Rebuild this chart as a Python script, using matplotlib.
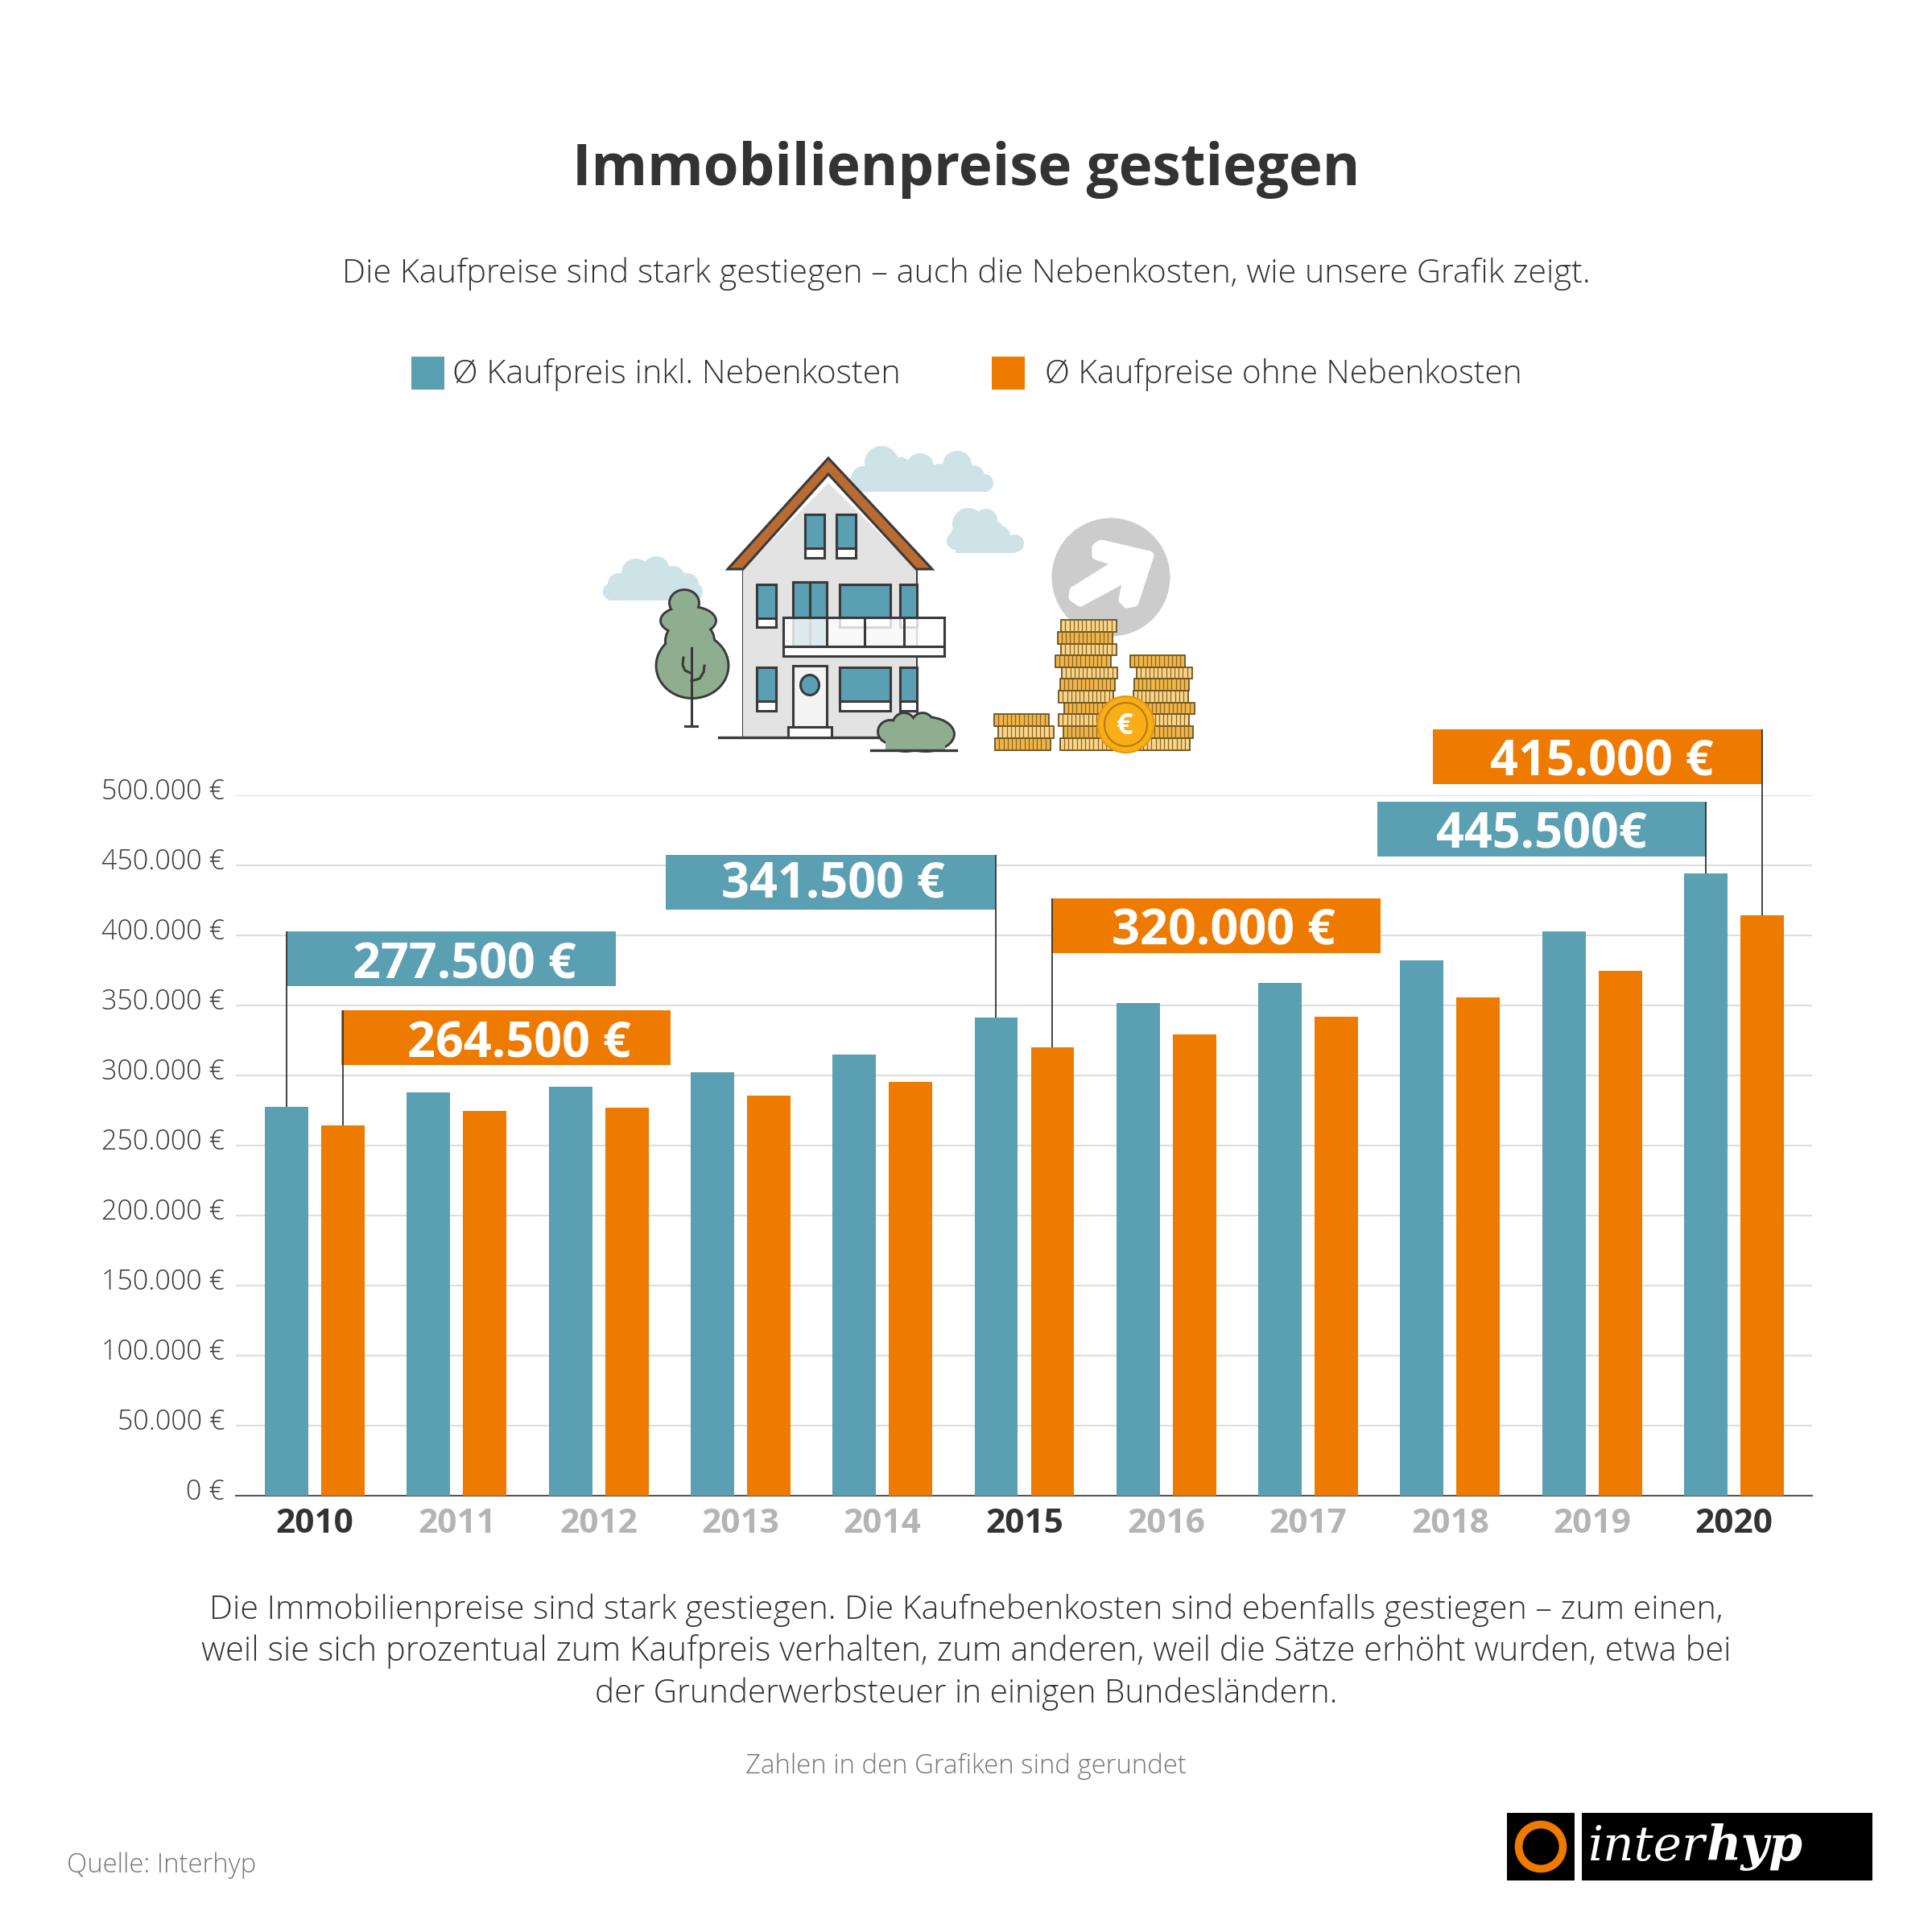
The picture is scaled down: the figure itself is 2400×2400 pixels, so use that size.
import matplotlib
matplotlib.use("Agg")
import matplotlib.pyplot as plt
from matplotlib.patches import Rectangle, Ellipse, Polygon, Circle
from matplotlib.transforms import ScaledTranslation

# data
years = [2010, 2011, 2012, 2013, 2014, 2015, 2016, 2017, 2018, 2019, 2020]
with_costs = [277500, 287900, 292000, 302100, 314900, 341500, 351700, 366100, 382200, 403000, 444300]
without_costs = [264500, 274700, 277000, 285600, 295400, 320100, 329300, 342100, 355900, 374900, 414400]
bold_years = [2010, 2015, 2020]
y_ticks = [0, 50000, 100000, 150000, 200000, 250000, 300000, 350000, 400000, 450000, 500000]
y_labels = ["0 €", "50.000 €", "100.000 €", "150.000 €", "200.000 €", "250.000 €",
            "300.000 €", "350.000 €", "400.000 €", "450.000 €", "500.000 €"]
legend_labels = ["Ø Kaufpreis inkl. Nebenkosten", "Ø Kaufpreise ohne Nebenkosten"]
title = "Immobilienpreise gestiegen"
subtitle = "Die Kaufpreise sind stark gestiegen – auch die Nebenkosten, wie unsere Grafik zeigt."
body_lines = ["Die Immobilienpreise sind stark gestiegen. Die Kaufnebenkosten sind ebenfalls gestiegen – zum einen,",
              "weil sie sich prozentual zum Kaufpreis verhalten, zum anderen, weil die Sätze erhöht wurden, etwa bei",
              "der Grunderwerbsteuer in einigen Bundesländern."]

BLUE = "#5A9FB2"
ORANGE = "#EE7A00"
DARK = "#333333"
FONT = "Open Sans"
W = 24

fig = plt.figure(figsize=(W, W), dpi=100)

# main chart, px positions
ax = fig.add_axes([293 / 2400, 1 - 1858 / 2400, (2251 - 293) / 2400, 870 / 2400])
ax.set_xlim(2010 - 98 / 176.3, 2010 + 1860 / 176.3)
ax.set_ylim(0, 500000)
off, bw = 35 / 176.3, 54 / 176.3
ax.bar([y - off for y in years], with_costs, bw, color=BLUE, zorder=3)
ax.bar([y + off for y in years], without_costs, bw, color=ORANGE, zorder=3)
ax.grid(axis="y", color="#DEDEDE", lw=1.5, zorder=0)
ax.set_axisbelow(True)
for s in ["top", "left", "right"]:
    ax.spines[s].set_visible(False)
ax.spines["bottom"].set_color("#555555")
ax.spines["bottom"].set_linewidth(1.5)
ax.set_yticks(y_ticks)
ax.set_yticklabels(y_labels, family=FONT, weight="light", fontsize=24.5, color="#3A3A3A")
ax.set_xticks(years)
ax.set_xticklabels([str(y) for y in years], family=FONT, weight="bold", fontsize=30.5)
ax.tick_params(length=0, axis="y", pad=10)
ax.tick_params(length=0, axis="x", pad=0)
for lab in ax.get_yticklabels():
    lab.set_verticalalignment("baseline")
    lab.set_transform(lab.get_transform() + ScaledTranslation(0, -5 / 100, fig.dpi_scale_trans))
for lab, y in zip(ax.get_xticklabels(), years):
    lab.set_verticalalignment("baseline")
    lab.set_color(DARK if y in bold_years else "#B4B4B4")
    lab.set_transform(lab.get_transform() + ScaledTranslation(0, -46 / 100, fig.dpi_scale_trans))

# overlay in pixel coordinates for text, callouts and the drawing
ov = fig.add_axes([0, 0, 1, 1], zorder=5)
ov.set_xlim(0, 2400)
ov.set_ylim(2400, 0)
ov.axis("off")
ov.patch.set_alpha(0)


def txt(x, y, s, size, color=DARK, weight="light", ha="center", **kw):
    kw.setdefault("family", FONT)
    return ov.text(x, y, s, fontsize=size, color=color, weight=weight, ha=ha, va="baseline", **kw)


def to_px(x, v):
    return ov.transData.inverted().transform(ax.transData.transform((x, v)))


txt(1200, 230, title, 51, weight="bold")
txt(1200, 351, subtitle, 29.8)
ov.add_patch(Rectangle((511, 443), 41, 41, color=BLUE, lw=0))
txt(562, 476, legend_labels[0], 29.7, ha="left")
ov.add_patch(Rectangle((1232, 443), 41, 41, color=ORANGE, lw=0))
txt(1298, 476, legend_labels[1], 29.2, ha="left")
for by, line, size in zip([2011, 2063, 2115], body_lines, [29.65, 30.0, 29.2]):
    txt(1200, by, line, size)
txt(1200, 2203, "Zahlen in den Grafiken sind gerundet", 23.7, color="#777777")
txt(83, 2326, "Quelle: Interhyp", 23.7, color="#777777", ha="left")

# callouts: label, year, series, box left, box top, text centre, baseline
callouts = [("277.500 €", 2010, 0, 356, 1157, 577, 1216),
            ("264.500 €", 2010, 1, 424, 1255, 645, 1314),
            ("341.500 €", 2015, 0, 827, 1062, 1035, 1116),
            ("320.000 €", 2015, 1, 1306, 1116, 1520, 1173),
            ("445.500€", 2020, 0, 1711, 996, 1915, 1053),
            ("415.000 €", 2020, 1, 1780, 906, 1990, 963)]
for label, yr, series, bx, by, tx, base in callouts:
    i = years.index(yr)
    vals = with_costs if series == 0 else without_costs
    col = BLUE if series == 0 else ORANGE
    xp, yp = to_px(yr + (off if series else -off), vals[i])
    ov.plot([xp, xp], [by, yp], color="#333333", lw=1.3, zorder=4, solid_capstyle="butt")
    ov.add_patch(Rectangle((bx, by), 409, 68, color=col, lw=0, zorder=3))
    txt(tx, base, label, 44, color="white", weight="bold", zorder=5)

# ---- illustration ----
LINE = "#3A3A3A"
CLOUD = "#CDE3E8"
GREEN = "#8FAE90"


def cloud(bumps, rect):
    for cx, cy, r in bumps:
        ov.add_patch(Circle((cx, cy), r, color=CLOUD, lw=0, zorder=1))
    ov.add_patch(Rectangle((rect[0], rect[1]), rect[2] - rect[0], rect[3] - rect[1], color=CLOUD, lw=0, zorder=1))


cloud([(1095, 575, 21), (1118, 584, 16), (1143, 580, 17), (1167, 588, 12), (1189, 578, 18), (1209, 592, 14),
       (1223, 600, 11), (1073, 595, 16), (1066, 600, 11), (1108, 592, 19), (1148, 592, 19), (1192, 592, 19)],
      (1064, 590, 1227, 611))
cloud([(1203, 651, 20), (1225, 646, 14), (1242, 666, 13), (1261, 675, 11), (1187, 672, 11), (1195, 665, 14),
       (1210, 664, 23), (1232, 662, 16)], (1187, 665, 1261, 687))
cloud([(790, 712, 18), (815, 708, 17), (836, 718, 15), (854, 726, 14), (862, 735, 11), (760, 735, 11),
       (768, 725, 13), (800, 725, 20), (835, 728, 17)], (758, 725, 864, 746))

# arrow circle
ov.add_patch(Ellipse((1380, 717), 147, 147, color="#CCCCCC", lw=0, zorder=1))
arrow = [(1362, 680), (1368, 676), (1428, 690), (1409, 748), (1400, 750), (1395, 745), (1401, 716),
         (1342, 748), (1333, 742), (1334, 734), (1390, 699), (1362, 690)]
ov.add_patch(Polygon(arrow, closed=True, fc="white", ec="white", lw=8, joinstyle="round", zorder=1.5))


def blob(shapes, z):
    # outline first, then fill on top so the lumps merge into one shape
    for cx, cy, w, h in shapes:
        ov.add_patch(Ellipse((cx, cy), w, h, fc=GREEN, ec=LINE, lw=4.2, zorder=z))
    for cx, cy, w, h in shapes:
        ov.add_patch(Ellipse((cx, cy), w, h, fc=GREEN, ec="none", zorder=z + 0.1))


# tree
blob([(860, 827, 87, 78), (857, 796, 58, 50), (855, 771, 66, 33), (850, 749, 34, 30)], 2)
ov.plot([859, 859], [805, 902], color=LINE, lw=2.2, zorder=2.5)
ov.plot([851, 866], [902, 902], color=LINE, lw=2.2, zorder=2.5)
ov.plot([849, 848, 851, 858], [817, 826, 833, 836], color=LINE, lw=2.2, zorder=2.5)
ov.plot([875, 874, 869, 859], [827, 835, 843, 846], color=LINE, lw=2.2, zorder=2.5)

# house
ov.add_patch(Rectangle((923, 707), 215, 209, fc="#E3E3E4", ec=LINE, lw=2.2, zorder=3))
ov.add_patch(Polygon([(1029, 600), (923, 707), (923, 916), (1138, 916), (1138, 707)], fc="#E3E3E4", ec="none", zorder=3))
ov.add_patch(Polygon([(1029, 569), (904, 707), (923, 707), (1029, 589), (1138, 707), (1158, 707)],
                     fc="#B96B32", ec=LINE, lw=2.2, joinstyle="miter", zorder=3.2))
ov.plot([893, 1098], [916, 916], color=LINE, lw=2.4, zorder=3.2)


def window(x0, x1, y0, ym, y1):
    ov.add_patch(Rectangle((x0 - 2, y0), x1 - x0, y1 - y0, fc="white", ec=LINE, lw=2.2, zorder=3.3))
    ov.add_patch(Rectangle((x0 - 2, y0), x1 - x0, ym - y0, fc=BLUE, ec=LINE, lw=2.2, zorder=3.3))


window(1001.5, 1026, 639, 681, 693)
window(1040.5, 1065, 639, 681, 693)
window(941.5, 966, 726, 768, 779)
window(1045, 1108, 726, 767, 779)
window(1120, 1141, 726, 767, 779)
window(987, 1008, 723, 803, 803)
window(1008, 1029, 723, 803, 803)
window(941.5, 966, 829, 871, 883)
window(1045, 1108, 829, 871, 883)
window(1120, 1141, 829, 871, 883)

# door and step
ov.add_patch(Rectangle((985, 827), 42, 76, fc="#F4F4F4", ec=LINE, lw=2.2, zorder=3.3))
ov.add_patch(Ellipse((1006, 851), 23, 25, fc=BLUE, ec=LINE, lw=2.2, zorder=3.4))
ov.add_patch(Rectangle((978.5, 903), 54.5, 13, fc="white", ec=LINE, lw=2.2, zorder=3.4))

# balcony
ov.add_patch(Rectangle((973, 767), 200, 36, fc="white", alpha=0.8, ec="none", zorder=3.5))
ov.add_patch(Rectangle((973, 767), 200, 36, fc="none", ec=LINE, lw=2.2, zorder=3.6))
ov.add_patch(Rectangle((973, 803), 200, 12, fc="white", ec=LINE, lw=2.2, zorder=3.6))
for bx in [1027, 1074, 1123]:
    ov.plot([bx, bx], [767, 803], color=LINE, lw=2.2, zorder=3.6)

# bush
blob([(1150, 912, 68, 40), (1106, 909, 28, 26), (1123, 901, 26, 28), (1146, 901, 26, 28), (1125, 915, 50, 34)], 3.7)
ov.add_patch(Rectangle((1100, 914), 74, 18, fc=GREEN, ec="none", zorder=3.9))
ov.plot([1082, 1188], [932, 932], color=LINE, lw=2.4, zorder=4)

# coins, rows in zoomed crop coordinates
coin_rows = [(1010, 1143, 1040, 1085), (1020, 1155, 1085, 1130), (1012, 1147, 1130, 1175),
             (1173, 1307, 690, 735), (1164, 1298, 735, 780), (1173, 1308, 780, 822), (1159, 1293, 822, 866),
             (1175, 1309, 866, 910), (1170, 1304, 910, 955), (1167, 1300, 955, 1000), (1180, 1310, 1000, 1042),
             (1167, 1300, 1042, 1087), (1177, 1310, 1087, 1130), (1170, 1303, 1130, 1175),
             (1341, 1474, 822, 866), (1357, 1491, 866, 910), (1350, 1484, 910, 955), (1348, 1482, 955, 1000),
             (1363, 1497, 1000, 1042), (1350, 1484, 1042, 1087), (1360, 1493, 1087, 1130), (1352, 1486, 1130, 1175)]
for n, (a, b, c, d) in enumerate(coin_rows):
    x0, x1 = 720 + a / 1.96, 720 + b / 1.96
    y0, y1 = 540 + c / 3, 540 + d / 3
    ov.add_patch(Rectangle((x0, y0), x1 - x0, y1 - y0, fc="#F8D58A" if n % 2 else "#EFB54A", ec="#6B5220", lw=1.3, zorder=4))
    xs = x0 + 5
    while xs < x1 - 2:
        ov.plot([xs, xs], [y0 + 1, y1 - 1], color="#8A6420", lw=0.9, zorder=4.1)
        xs += 5.2

ov.add_patch(Ellipse((1398.5, 900), 70, 70, fc="#F7AE17", ec="#E8960F", lw=1.5, zorder=4.3))
ov.add_patch(Ellipse((1398.5, 900), 53, 54, fc="#F7AE17", ec="#B77A10", lw=1.5, zorder=4.4))
txt(1397.5, 912, "€", 26, color="white", weight="bold", zorder=4.5)

# logo
ov.add_patch(Rectangle((1872, 2252), 84, 84, color="black", lw=0))
ov.add_patch(Rectangle((1965, 2252), 361, 84, color="black", lw=0))
ov.add_patch(Circle((1914, 2294), 27.5, fc="none", ec=ORANGE, lw=7))
txt(1973, 2311, "inter", 43, color="white", weight="normal", ha="left", family="DejaVu Serif", style="italic")
txt(2120, 2311, "hyp", 43, color="white", weight="bold", ha="left", family="DejaVu Serif", style="italic")

fig.savefig("out.png", dpi=100, facecolor="white")
